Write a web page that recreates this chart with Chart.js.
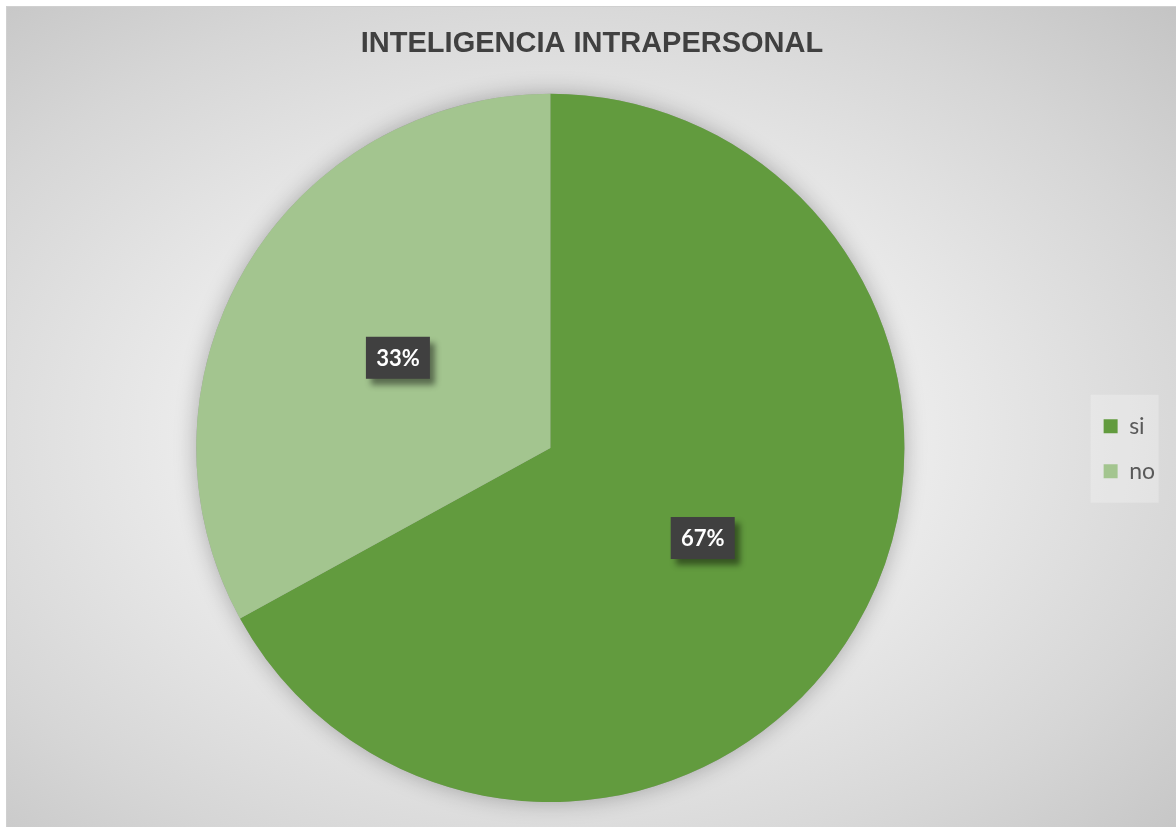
<!DOCTYPE html>
<html>
<head>
<meta charset="utf-8">
<script src="https://cdn.jsdelivr.net/npm/chart.js@4/dist/chart.umd.min.js"></script>
<style>
  html, body { margin: 0; padding: 0; background: #fff; }
  #wrap {
    position: absolute; left: 6px; top: 6px; width: 1170px; height: 821px;
    background: radial-gradient(ellipse at 47% 52%, #f6f6f6 0%, #ececec 40%, #d6d6d6 75%, #c4c4c4 100%);
    border-top: 1px solid #d0d0d0; border-left: 1px solid #d0d0d0;
    box-sizing: border-box;
  }
  canvas { display: block; }
</style>
</head>
<body>
<div id="wrap"><canvas id="pie-chart" width="1169" height="820"></canvas></div>
<script>
// Data
var labels = ["si", "no"];
var values = [67, 33];
var colors = ["#629b3e", "#a3c58f"];

// soft shadow under the pie
var pieShadow = {
  id: "pieShadow",
  beforeDatasetsDraw: function (chart) {
    var arc = chart.getDatasetMeta(0).data[0];
    var ctx = chart.ctx;
    ctx.save();
    ctx.shadowColor = "rgba(0,0,0,0.28)";
    ctx.shadowBlur = 22;
    ctx.fillStyle = "#a0a0a0";
    ctx.beginPath();
    ctx.arc(arc.x, arc.y, arc.outerRadius, 0, Math.PI * 2);
    ctx.fill();
    ctx.restore();
  },
};

// dark percentage boxes
var pctLabels = {
  id: "pctLabels",
  afterDatasetsDraw: function (chart) {
    var ctx = chart.ctx;
    var data = chart.data.datasets[0].data;
    var total = data.reduce(function (a, b) { return a + b; }, 0);
    chart.getDatasetMeta(0).data.forEach(function (arc, i) {
      var p = arc.tooltipPosition();
      var w = 64, h = 42;
      ctx.save();
      ctx.shadowColor = "rgba(0,0,0,0.45)";
      ctx.shadowBlur = 6;
      ctx.shadowOffsetX = 5;
      ctx.shadowOffsetY = 6;
      ctx.fillStyle = "#404040";
      ctx.fillRect(p.x - w / 2, p.y - h / 2, w, h);
      ctx.restore();
      ctx.save();
      ctx.fillStyle = "#ffffff";
      ctx.font = "bold 22px Lato";
      ctx.textAlign = "center";
      ctx.textBaseline = "middle";
      ctx.fillText(Math.round((data[i] / total) * 100) + "%", p.x, p.y + 1);
      ctx.restore();
    });
  },
};

// light panel behind the legend
var legendPanel = {
  id: "legendPanel",
  beforeDraw: function (chart) {
    var boxes = chart.legend.legendHitBoxes;
    if (!boxes || !boxes.length) return;
    var ctx = chart.ctx;
    var top = boxes[0].top - 20;
    var bottom = boxes[boxes.length - 1].top + boxes[boxes.length - 1].height + 20;
    ctx.save();
    ctx.fillStyle = "rgba(255,255,255,0.25)";
    ctx.fillRect(boxes[0].left - 13, top, 68, bottom - top);
    ctx.restore();
  },
};

var ctx = document.getElementById("pie-chart").getContext("2d");
var chart = new Chart(ctx, {
  type: "pie",
  data: {
    labels: labels,
    datasets: [{
      data: values,
      backgroundColor: colors,
      borderWidth: 0,
    }],
  },
  options: {
    responsive: false,
    animation: false,
    layout: { padding: { left: 12, right: 11, top: 0, bottom: 25 } },
    plugins: {
      title: {
        display: true,
        text: "INTELIGENCIA INTRAPERSONAL",
        color: "#404040",
        font: { family: "Liberation Sans, Arial", size: 29, weight: "bold" },
        padding: { top: 20, bottom: 32 },
      },
      legend: {
        position: "right",
        title: { display: true, text: " ", padding: 37 },
        labels: {
          boxWidth: 14,
          boxHeight: 14,
          padding: 22,
          color: "#595959",
          font: { family: "Lato", size: 23 },
        },
      },
      tooltip: { enabled: false },
    },
  },
  plugins: [legendPanel, pieShadow, pctLabels],
});
</script>
</body>
</html>
